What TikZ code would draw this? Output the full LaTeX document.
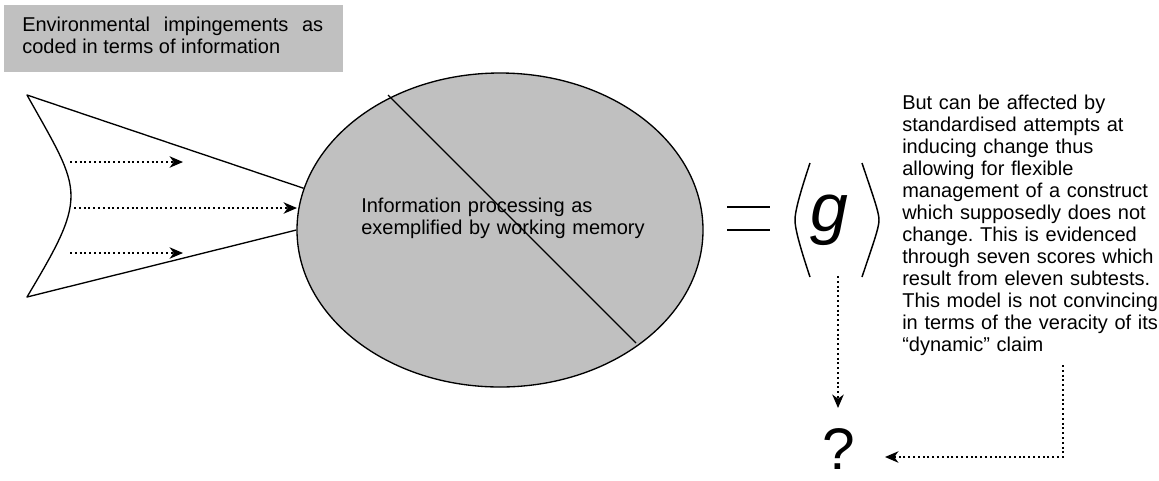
\documentclass[tikz,border=0pt]{standalone}
\usepackage{fontspec}
\setmainfont{Liberation Sans}
\frenchspacing
\usetikzlibrary{shapes.geometric,arrows.meta}
\definecolor{boxgray}{HTML}{C0C0C0}
\tikzset{
  txt/.style={inner sep=0pt, font=\fontsize{15}{16.5}\selectfont},
  dotarrow/.style={line width=1.5pt, dash pattern=on 1.5pt off 2.1pt, -{Stealth[length=10pt,width=8.5pt,inset=3pt]}},
  outline/.style={line width=1pt, line join=round}
}
\begin{document}
\begin{tikzpicture}[x=0.75pt,y=-0.75pt]
\useasboundingbox (0,0) rectangle (1159,480);
% top-left box
\fill[boxgray] (4,5) rectangle (343,72);
\node[txt, anchor=north west, text width=225.75pt, align=justify] (env) at (22,17)
  {Environmental impingements as coded in terms of information};
% ellipse
\node[draw, outline, fill=boxgray, ellipse, minimum width=304.5pt, minimum height=235.5pt, inner sep=0pt] (ell) at (500,230) {};
\coordinate (d1) at (388,95);
\coordinate (d2) at (636,343);
\draw[outline] (d1) -- (d2);
\node[txt, anchor=north west, text width=220pt, align=left] (info) at (361,198)
  {Information processing as\\exemplified by working memory};
% fish tail
\coordinate (tt) at (27,95);
\coordinate (tb) at (27,297);
\coordinate (tm) at (71,196);
\draw[outline] (ell.168) -- (tt) .. controls (55,145) and (71,170) .. (tm)
  .. controls (71,222) and (55,250) .. (tb) -- (ell.180.5);
% dotted arrows
\coordinate (a1s) at (70,162); \coordinate (a1e) at (183,162);
\coordinate (a2s) at (74,208); \coordinate (a2e) at (297,208);
\coordinate (a3s) at (70,253); \coordinate (a3e) at (183,253);
\draw[dotarrow] (a1s) -- (a1e);
\draw[dotarrow] (a2s) -- (a2e);
\draw[dotarrow] (a3s) -- (a3e);
% equals
\coordinate (e1) at (727,207); \coordinate (e2) at (770,207);
\coordinate (e3) at (727,230); \coordinate (e4) at (770,230);
\draw[line width=1.6pt] (e1) -- (e2) (e3) -- (e4);
% angle brackets
\coordinate (lb1) at (810,163); \coordinate (lb2) at (795,220); \coordinate (lb3) at (810,277);
\coordinate (rb1) at (862,163); \coordinate (rb2) at (879,220); \coordinate (rb3) at (862,277);
\draw[line width=1.1pt] (lb1) .. controls (799,196) and (795,212) .. (lb2) .. controls (795,228) and (799,244) .. (lb3);
\draw[line width=1.1pt] (rb1) .. controls (873,196) and (879,212) .. (rb2) .. controls (879,228) and (873,244) .. (rb3);
\node[inner sep=0pt, anchor=north, font=\fontsize{51}{51}\selectfont\itshape] (g) at (829,195) {g};
% question mark
\node[inner sep=0pt, anchor=north, font=\fontsize{44}{44}\selectfont] (q) at (839,428) {?};
\coordinate (gd) at (838,276);
\draw[dotarrow] (gd) -- (838,408);
% right text
\node[txt, anchor=north west, text width=200pt, align=left] (right) at (902,95)
  {But can be affected by\\standardised attempts at\\inducing change thus\\allowing for flexible\\management of a construct\\which supposedly does not\\change. This is evidenced\\through seven scores which\\result from eleven subtests.\\This model is not convincing\\in terms of the veracity of its\\“dynamic” claim};
\coordinate (r1) at (1063,365);
\coordinate (r2) at (1063,457);
\coordinate (r3) at (885,457);
\draw[dotarrow] (r1) -- (r2) -- (r3);
\end{tikzpicture}
\end{document}
